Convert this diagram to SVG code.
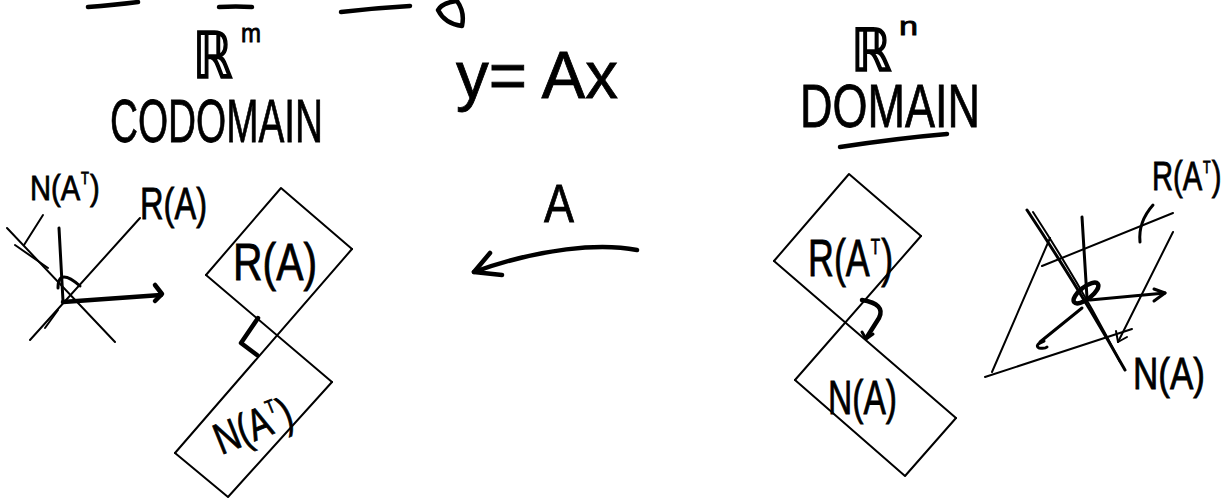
<svg xmlns="http://www.w3.org/2000/svg" width="1225" height="498" viewBox="0 0 1225 498">
<style>
.ink{fill:none;stroke:#000;stroke-linecap:round;stroke-linejoin:round}
.thin{stroke-width:2}
.mid{stroke-width:3}
.bold{stroke-width:4.5}
.t{font-family:"Liberation Sans","DejaVu Sans",sans-serif;fill:#000;stroke:#000;stroke-width:0.8}
.bb{font-family:"DejaVu Sans","Liberation Sans",sans-serif;fill:#000;stroke:#000;stroke-width:1.5}
</style>
<rect width="1225" height="498" fill="#fff"/>

<g id="top-fragments">
<path class="ink bold" d="M 88 7 Q 115 5 138 2"/>
<path class="ink bold" d="M 219 7 Q 236 6 252 7"/>
<path class="ink bold" d="M 341 12 Q 375 8 410 6"/>
<path class="ink bold" d="M 456 1 Q 442 3 438 10 Q 445 24 462 26 Q 465 12 457 1"/>
</g>

<g id="codomain-title">
<g transform="translate(193 78) scale(0.9 1.15)">
<text class="bb" x="0" y="0" font-size="56">ℝ</text>
</g>
<text class="t" x="241" y="42" font-size="26" textLength="20" lengthAdjust="spacingAndGlyphs">m</text>
<text class="t" x="110" y="142" font-size="62" textLength="213" lengthAdjust="spacingAndGlyphs">CODOMAIN</text>
</g>

<g id="equation">
<text class="t" x="456" y="98" font-size="66" textLength="162" lengthAdjust="spacingAndGlyphs">y= Ax</text>
</g>

<g id="domain-title">
<g transform="translate(851 71) scale(0.95 1.1)">
<text class="bb" x="0" y="0" font-size="54">ℝ</text>
</g>
<text class="t" x="899" y="35" font-size="25" textLength="19" lengthAdjust="spacingAndGlyphs">n</text>
<text class="t" x="800" y="127" font-size="62" textLength="180" lengthAdjust="spacingAndGlyphs">DOMAIN</text>
<path class="ink bold" d="M 840 147 Q 900 138 947 134"/>
</g>

<g id="codomain-axes">
<path class="ink thin" d="M 7 228 L 115 342"/>
<path class="ink thin" d="M 15 245 L 48 268"/>
<path class="ink thin" d="M 43 215 L 24 245"/>
<path class="ink mid" d="M 59 228 L 63 301"/>
<path class="ink thin" d="M 140 218 L 30 340"/>
<path class="ink thin" d="M 45 328 L 58 310"/>
<path class="ink mid" d="M 58 288 Q 58 277 64 277 Q 70 277 80 286"/>
<path class="ink bold" d="M 63 302 L 161 295"/>
<path class="ink bold" d="M 155 285 L 162 294 L 155 301"/>
<g transform="translate(30 200) scale(0.81 1)">
<text class="t" x="0" y="0" font-size="36">N(A</text>
<text class="t" x="63" y="-16" font-size="16">T</text>
<text class="t" x="74" y="0" font-size="36">)</text>
</g>
<text class="t" x="140" y="219" font-size="44" textLength="67" lengthAdjust="spacingAndGlyphs">R(A)</text>
</g>

<g id="range-A">
<path class="ink thin" d="M 206 275 L 281 188 L 352 249"/>
<text class="t" x="233" y="280" font-size="52" textLength="84" lengthAdjust="spacingAndGlyphs">R(A)</text>
</g>

<g id="null-AT">
<path class="ink thin" d="M 175 453 L 228 497 L 332 382"/>
<g transform="rotate(-22 250 425) translate(212 442) scale(0.77 1)">
<text class="t" x="0" y="0" font-size="44">N(A</text>
<text class="t" x="77" y="-20" font-size="19">T</text>
<text class="t" x="90" y="0" font-size="44">)</text>
</g>
</g>

<g id="range-AT">
<path class="ink thin" d="M 774 261 L 849 174 L 921 236"/>
<g transform="translate(808 276) scale(0.69 1)">
<text class="t" x="0" y="0" font-size="52">R(A</text>
<text class="t" x="91" y="-22" font-size="22">T</text>
<text class="t" x="106" y="0" font-size="52">)</text>
</g>
</g>

<g id="null-A">
<path class="ink thin" d="M 795 380 L 905 476 L 956 418"/>
<text class="t" x="828" y="414" font-size="48" textLength="69" lengthAdjust="spacingAndGlyphs">N(A)</text>
</g>

<g id="domain-axes">
<path class="ink thin" d="M 1042 266 L 1173 213"/>
<path class="ink mid" d="M 1153 205 Q 1138 222 1140 242"/>
<path class="ink thin" d="M 1050 238 L 992 372"/>
<path class="ink thin" d="M 985 377 L 1132 329"/>
<path class="ink thin" d="M 1173 232 L 1118 342"/>
<path class="ink thin" d="M 1116 331 L 1118 342 L 1127 337"/>
<path class="ink mid" d="M 1027 210 Q 1080 290 1125 370"/>
<path class="ink thin" d="M 1033 212 Q 1085 292 1120 362"/>
<path class="ink mid" d="M 1082 217 L 1087 298"/>
<ellipse cx="1086" cy="293" rx="15" ry="6" transform="rotate(-38 1086 293)" fill="none" stroke="#000" stroke-width="4.5"/>
<path class="ink mid" d="M 1090 300 L 1165 293"/>
<path class="ink mid" d="M 1154 289 L 1165 293 L 1154 301"/>
<path class="ink mid" d="M 1082 308 L 1040 342"/>
<path class="ink mid" d="M 1044 341 Q 1034 345 1039 348 Q 1045 349 1047 347"/>
<g transform="translate(1152 190) scale(0.73 1)">
<text class="t" x="0" y="0" font-size="40">R(A</text>
<text class="t" x="70" y="-17" font-size="17">T</text>
<text class="t" x="82" y="0" font-size="40">)</text>
</g>
<text class="t" x="1133" y="389" font-size="44" textLength="72" lengthAdjust="spacingAndGlyphs">N(A)</text>
</g>

<g id="connectors">
<path class="ink thin" d="M 206 275 L 332 382"/>
<path class="ink thin" d="M 352 249 L 175 453"/>
<path class="ink bold" d="M 258 318 L 241 343 L 257 355"/>
<path class="ink thin" d="M 774 261 L 956 418"/>
<path class="ink thin" d="M 921 236 L 795 380"/>
<path class="ink bold" d="M 862 300 Q 886 304 879 318 L 867 337"/>
<path class="ink mid" d="M 862 332 L 866 339 L 873 334"/>
<path class="ink bold" d="M 637 250 C 600 243 540 248 474 272"/>
<path class="ink bold" d="M 490 253 L 474 272 L 502 275"/>
<text class="t" x="544" y="222" font-size="54" textLength="30" lengthAdjust="spacingAndGlyphs">A</text>
</g>
</svg>
